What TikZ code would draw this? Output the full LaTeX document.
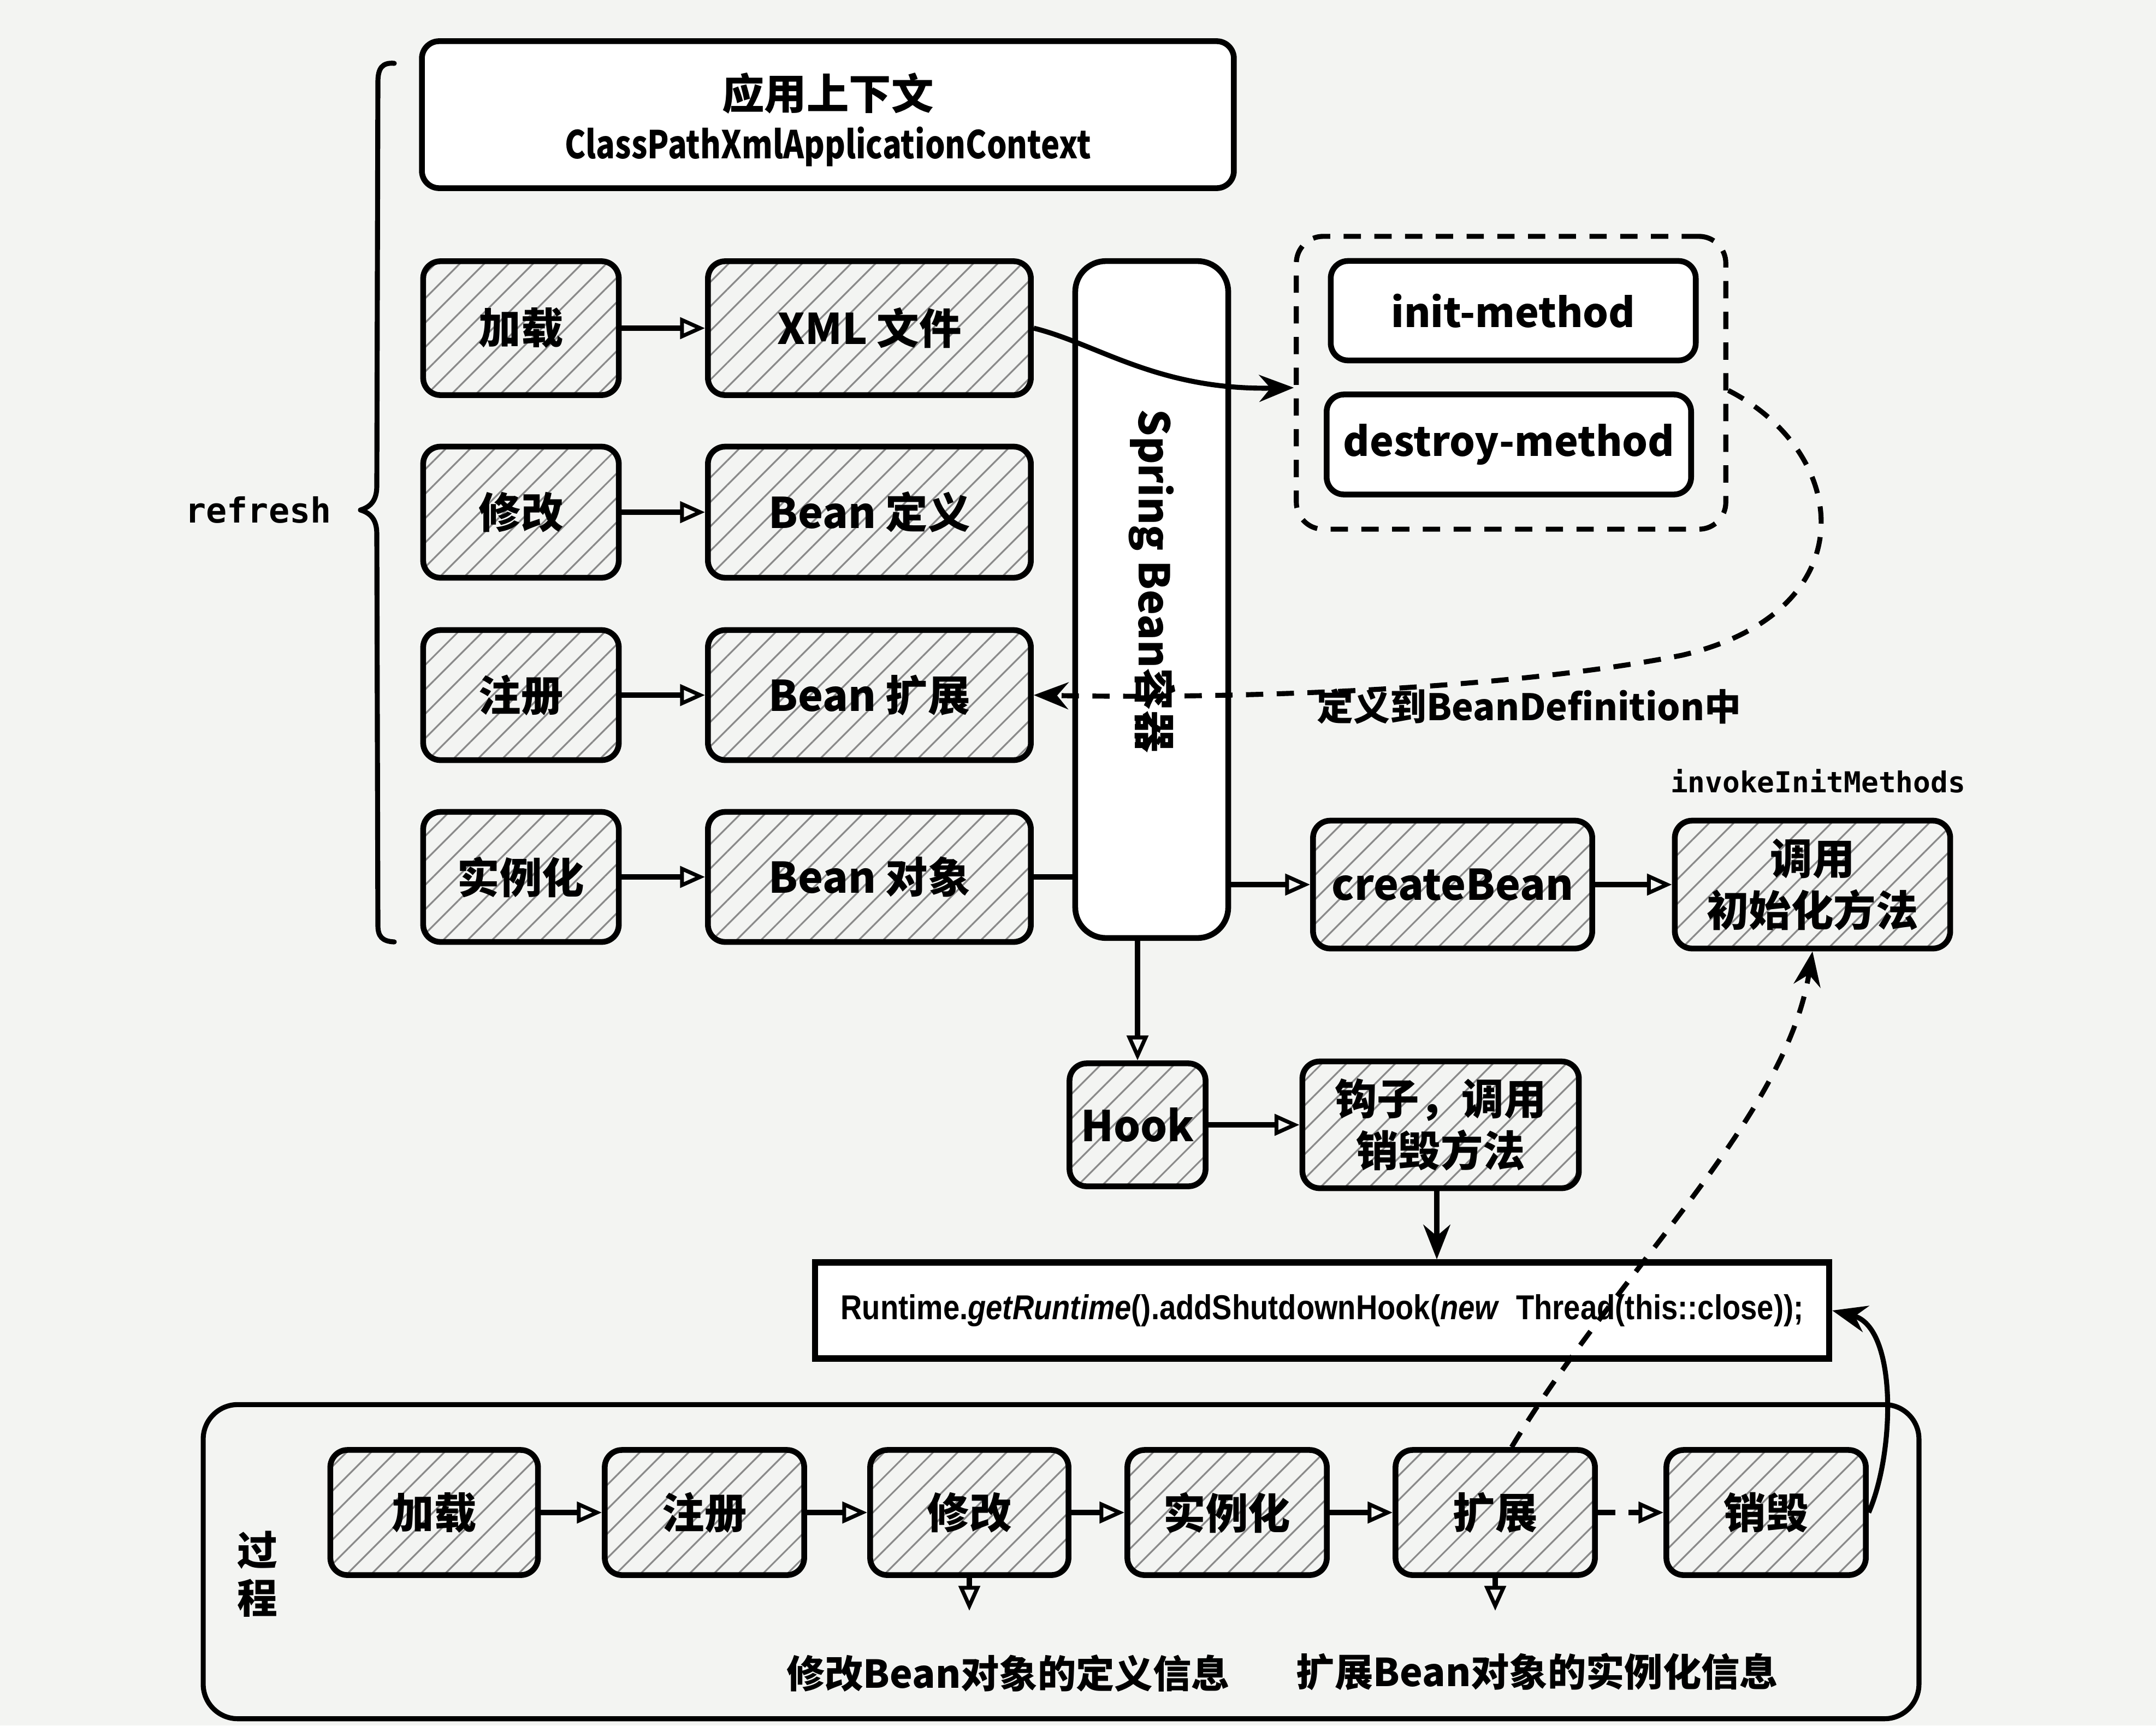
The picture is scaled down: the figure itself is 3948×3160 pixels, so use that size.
\documentclass[tikz,border=0pt]{standalone}
\usepackage{fontspec}
\setmainfont{Noto Sans CJK SC}
\newfontfamily\monofont{DejaVu Sans Mono}
\newfontfamily\codefont{Liberation Sans}
\usetikzlibrary{arrows.meta,patterns.meta}
\definecolor{paper}{HTML}{F3F4F2}
\definecolor{hatch}{HTML}{8A8A8A}
\begin{document}
\begin{tikzpicture}[x=0.01cm,y=-0.01cm,
  hbox/.style={draw, line width=3pt, rounded corners=9pt, inner sep=0pt, align=center,
    font=\bfseries\fontsize{22}{27}\selectfont,
    pattern={Lines[angle=45,distance=9pt,line width=0.9pt]}, pattern color=hatch},
  pbox/.style={draw, line width=3pt, rounded corners=9pt, inner sep=0pt, align=center,
    fill=white, font=\bfseries\fontsize{21}{26}\selectfont},
  conn/.style={line width=2.6pt},
  arr/.style={conn, -{Triangle[open, length=13pt, width=11pt, line width=2pt]}},
  darr/.style={conn, dashed, dash pattern=on 9pt off 7pt, -{Triangle[open, length=13pt, width=11pt, line width=2pt]}},
  sarr/.style={conn, -{Stealth[length=18pt, width=14pt]}},
  dsarr/.style={conn, dash pattern=on 9pt off 7pt, -{Stealth[length=18pt, width=14pt]}},
  lbl/.style={inner sep=0pt, font=\bfseries\fontsize{20}{24}\selectfont}
]
\useasboundingbox (0,0) rectangle (3948,3160);
\fill[paper] (0,0) rectangle (3948,3160);

% context box
\node[pbox, minimum width=14.86cm, minimum height=2.69cm] (ctx) at (1516,210) {};
\node[lbl, font=\bfseries\fontsize{22}{26}\selectfont] (ctxa) at (1516,171) {应用上下文};
\node[lbl, font=\bfseries\fontsize{20}{24}\selectfont, transform shape, xscale=0.82] (ctxb) at (1516,269) {ClassPathXmlApplicationContext};

% refresh brace
\draw[line width=2.6pt, line cap=round, line join=round]
  (722,116) .. controls (700,114) and (692,125) .. (692,150)
  -- (690,890) .. controls (690,915) and (680,928) .. (660,934)
  .. controls (680,940) and (690,953) .. (690,978)
  -- (692,1695) .. controls (692,1715) and (700,1724) .. (722,1725);
\node[lbl, font=\monofont\bfseries\fontsize{18}{22}\selectfont] (refresh) at (473,934) {refresh};

% left column
\node[hbox, minimum width=3.58cm, minimum height=2.45cm] (l1) at (954,601) {加载};
\node[hbox, minimum width=3.58cm, minimum height=2.40cm] (l2) at (954,938) {修改};
\node[hbox, minimum width=3.58cm, minimum height=2.38cm] (l3) at (954,1273) {注册};
\node[hbox, minimum width=3.58cm, minimum height=2.38cm] (l4) at (954,1606) {实例化};

% second column
\node[hbox, minimum width=5.91cm, minimum height=2.45cm] (r1) at (1592,601) {XML 文件};
\node[hbox, minimum width=5.91cm, minimum height=2.40cm] (r2) at (1592,938) {Bean 定义};
\node[hbox, minimum width=5.91cm, minimum height=2.38cm] (r3) at (1592,1273) {Bean 扩展};
\node[hbox, minimum width=5.91cm, minimum height=2.38cm] (r4) at (1592,1606) {Bean 对象};

\draw[arr] (l1) -- (r1);
\draw[arr] (l2) -- (r2);
\draw[arr] (l3) -- (r3);
\draw[arr] (l4) -- (r4);

% spring container
\node[pbox, minimum width=2.80cm, minimum height=12.39cm, rounded corners=16pt] (spring) at (2109,1098) {};
\node[lbl, rotate=-90, font=\bfseries\fontsize{22}{26}\selectfont] (springt) at (2110,1064) {Spring Bean容器};

% init/destroy group
\node[draw, line width=2.6pt, dash pattern=on 9pt off 7pt, rounded corners=14pt, minimum width=7.86cm, minimum height=5.36cm] (grp) at (2767,701) {};
\node[pbox, minimum width=6.68cm, minimum height=1.82cm] (init) at (2771,569) {init-method};
\node[pbox, minimum width=6.67cm, minimum height=1.83cm] (destroy) at (2763,814) {destroy-method};

\draw[sarr] (r1.east) .. controls (2010,630) and (2120,715) .. (grp.west |- 0,710);
\draw[dsarr] (grp.east |- 0,715) .. controls (3390,830) and (3420,1120) .. (3080,1200)
  .. controls (2750,1265) and (2250,1280) .. (r3.east);
\node[lbl, font=\bfseries\fontsize{19}{24}\selectfont] (deflbl) at (2800,1294) {定义到BeanDefinition中};

\draw[conn] (r4.east) -- (r4.east -| spring.west);

% createBean and init call
\node[hbox, minimum width=5.11cm, minimum height=2.34cm] (cb) at (2660,1620) {createBean};
\node[hbox, minimum width=5.04cm, minimum height=2.34cm] (call) at (3319,1620) {调用\\初始化方法};
\node[lbl, font=\monofont\bfseries\fontsize{15}{19}\selectfont] (inv) at (3329,1430) {invokeInitMethods};
\draw[arr] (spring.east |- cb.west) -- (cb.west);
\draw[arr] (cb) -- (call);

% hook
\node[hbox, minimum width=2.49cm, minimum height=2.25cm] (hook) at (2083,2060) {Hook};
\node[hbox, minimum width=5.06cm, minimum height=2.32cm] (hd) at (2638,2060) {钩子，调用\\销毁方法};
\draw[arr] (hook.north |- spring.south) -- (hook.north);
\draw[arr] (hook) -- (hd);

% runtime
\node[draw, line width=3.2pt, fill=white, minimum width=18.56cm, minimum height=1.76cm, inner sep=0pt] (rt) at (2421,2400) {};
\node[inner sep=0pt, transform shape, xscale=0.86, font=\codefont\bfseries\fontsize{18}{22}\selectfont] (rtt) at (2421,2400)
  {Runtime.\textit{getRuntime}().addShutdownHook(\textit{new}~~Thread(this::close));};
\draw[sarr] (hd.south -| 2631,0) -- (rt.north -| 2631,0);

% process frame
\node[draw, line width=2.6pt, rounded corners=18pt, minimum width=31.40cm, minimum height=5.75cm] (proc) at (1943,2860) {};
\node[lbl, align=center, font=\bfseries\fontsize{21}{25}\selectfont] (proct) at (471,2883) {过\\程};

\node[hbox, minimum width=3.80cm, minimum height=2.29cm] (b1) at (795,2770) {加载};
\node[hbox, minimum width=3.65cm, minimum height=2.29cm] (b2) at (1290,2770) {注册};
\node[hbox, minimum width=3.63cm, minimum height=2.29cm] (b3) at (1775,2770) {修改};
\node[hbox, minimum width=3.65cm, minimum height=2.29cm] (b4) at (2247,2770) {实例化};
\node[hbox, minimum width=3.65cm, minimum height=2.29cm] (b5) at (2738,2770) {扩展};
\node[hbox, minimum width=3.65cm, minimum height=2.29cm] (b6) at (3234,2770) {销毁};
\draw[arr] (b1) -- (b2);
\draw[arr] (b2) -- (b3);
\draw[arr] (b3) -- (b4);
\draw[arr] (b4) -- (b5);
\draw[darr] (b5) -- (b6);

\node[lbl] (note1) at (1846,3064) {修改Bean对象的定义信息};
\node[lbl] (note2) at (2815,3062) {扩展Bean对象的实例化信息};
\draw[arr] (b3.south) -- (b3.south |- 0,2950);
\draw[arr] (b5.south) -- (b5.south |- 0,2950);

\draw[sarr] (b6.east) .. controls (3470,2660) and (3475,2430) .. (rt.east);
\draw[dsarr] ([xshift=0.3cm]b5.north) .. controls (2960,2330) and (3270,2050) .. (call.south);
\end{tikzpicture}
\end{document}
